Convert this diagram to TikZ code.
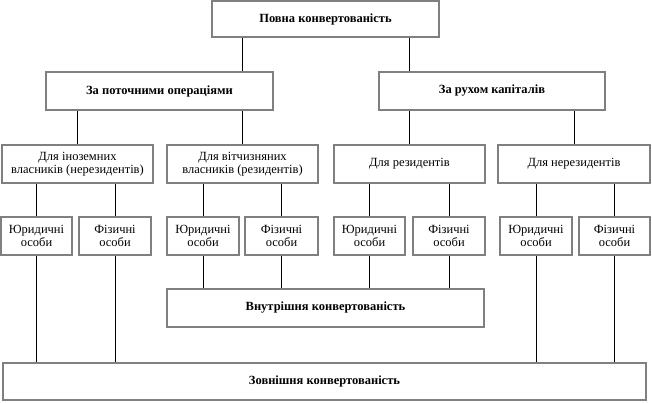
\documentclass[tikz,border=0pt]{standalone}
\usepackage{fontspec}
\setmainfont{Liberation Serif}
\usepackage{tikz}

\begin{document}
\begin{tikzpicture}[x=1pt,y=-1pt,
                every node/.style={draw=gray,line width=1.6pt,inner sep=0pt,align=center,
                  font=\fontsize{12.5}{12.7}\selectfont},
                main/.style={font=\fontsize{12.5}{12.7}\selectfont\bfseries},
                every path/.style={line width=0.8pt}]
  \useasboundingbox (0,0) rectangle (652,402);
  % top levels
  \node[main,minimum width=227,minimum height=36] (full) at (325.5,19)  {Повна конвертованість};
  \node[main,minimum width=227,minimum height=38] (cur)  at (159.5,91)  {За поточними операціями};
  \node[main,minimum width=226,minimum height=38] (cap)  at (492,91)    {За рухом капіталів};
  % owners
  \node[minimum width=151,minimum height=38] (fo) at (77.5,164)  {Для іноземних\\власників (нерезидентів)};
  \node[minimum width=151,minimum height=38] (do) at (242.5,164) {Для вітчизняних\\власників (резидентів)};
  \node[minimum width=151,minimum height=38] (re) at (409.5,164) {Для резидентів};
  \node[minimum width=152,minimum height=38] (nr) at (574,164)   {Для нерезидентів};
  % persons
  \node[minimum width=71,minimum height=38] (foj) at (36.5,236)  {Юридичні\\особи};
  \node[minimum width=72,minimum height=38] (fof) at (115,236)   {Фізичні\\особи};
  \node[minimum width=72,minimum height=38] (doj) at (203,236)   {Юридичні\\особи};
  \node[minimum width=73,minimum height=38] (dof) at (281.5,236) {Фізичні\\особи};
  \node[minimum width=71,minimum height=38] (rej) at (369.5,236) {Юридичні\\особи};
  \node[minimum width=72,minimum height=38] (ref) at (449,236)   {Фізичні\\особи};
  \node[minimum width=72,minimum height=38] (nrj) at (536,236)   {Юридичні\\особи};
  \node[minimum width=71,minimum height=38] (nrf) at (614.5,236) {Фізичні\\особи};
  % results
  \node[main,minimum width=317,minimum height=38] (int) at (325.5,308) {Внутрішня конвертованість};
  \node[main,minimum width=643,minimum height=37] (ext) at (324.5,381.5) {Зовнішня конвертованість};

  \draw (full.south -| do) -- (cur.north -| do);
  \draw (full.south -| re) -- (cap.north -| re);
  \draw (cur.south -| fo) -- (fo);
  \draw (cur.south -| do) -- (do);
  \draw (cap.south -| re) -- (re);
  \draw (cap.south -| nr) -- (nr);
  \draw (fo.south -| foj) -- (foj);
  \draw (fo.south -| fof) -- (fof);
  \draw (do.south -| doj) -- (doj);
  \draw (do.south -| dof) -- (dof);
  \draw (re.south -| rej) -- (rej);
  \draw (re.south -| ref) -- (ref);
  \draw (nr.south -| nrj) -- (nrj);
  \draw (nr.south -| nrf) -- (nrf);
  \draw (foj) -- (ext.north -| foj);
  \draw (fof) -- (ext.north -| fof);
  \draw (doj) -- (int.north -| doj);
  \draw (dof) -- (int.north -| dof);
  \draw (rej) -- (int.north -| rej);
  \draw (ref) -- (int.north -| ref);
  \draw (nrj) -- (ext.north -| nrj);
  \draw (nrf) -- (ext.north -| nrf);
\end{tikzpicture}
\end{document}
